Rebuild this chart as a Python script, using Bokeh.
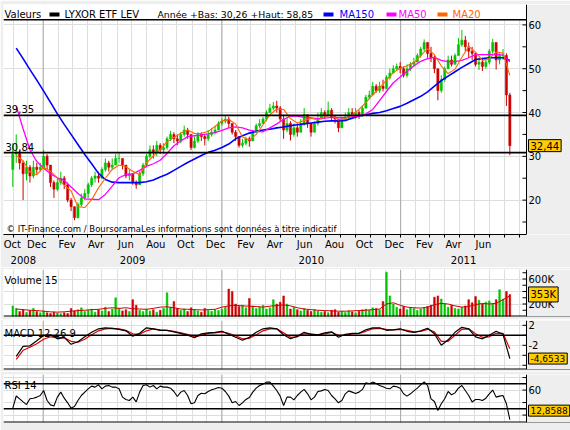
import pandas as pd
from bokeh.plotting import figure
from bokeh.layouts import column
from bokeh.models import Range1d, FixedTicker, Span, Label, BoxAnnotation, LinearAxis
from bokeh.embed import file_html
from bokeh.resources import INLINE

# ---------------- data (weekly) ----------------
first_open = 27.0
close = [30.5, 31, 28.5, 26, 27.5, 25.5, 27.5, 27, 27.5, 30,
         28, 24, 22.5, 24, 25, 23.5, 20, 18.5, 16, 19,
         20.5, 21.5, 23.5, 25, 25.5, 25, 27, 28.5, 27.5, 28,
         29.5, 29.5, 28, 25.5, 26, 24, 23.5, 26, 28, 30,
         31.5, 31, 32.5, 31.5, 32, 34, 35, 34, 33.5, 35,
         36, 35, 32, 33.5, 35, 34.5, 34, 35, 35.5, 36,
         37.5, 38, 38.5, 37.5, 35.5, 34.5, 32.5, 33, 34, 33.5,
         35.5, 37, 37.5, 38.5, 40, 41, 41.5, 41, 38.5, 36,
         37.5, 35, 36.5, 35.5, 37.5, 39.5, 37.5, 35.5, 37.5, 38.5,
         40, 39.5, 40.5, 39, 38.5, 36.5, 38.5, 39, 40, 39.5,
         40, 39.5, 41, 43.5, 44, 46, 45, 46, 45.5, 48,
         49, 50, 50.5, 50, 48.5, 50, 51, 51.5, 53, 54.5,
         56, 53.5, 52.5, 50, 45, 47.5, 50, 52, 51, 53,
         55.5, 56.5, 55, 54, 53.5, 51, 51.5, 50.5, 51.5, 54,
         56, 52, 53, 53, 44, 32.44]
high = [33, 35, 31.5, 29, 29, 28, 29, 28.5, 28.5, 31.5,
        30.5, 28, 24.5, 25, 26.5, 25.5, 24, 20.5, 18.5, 19.5,
        21.5, 22.5, 24, 25.5, 26.5, 26.5, 27.5, 29.5, 29, 29.5,
        30.5, 31, 29.5, 28, 27, 26, 24.5, 26.5, 28.5, 30.5,
        32.5, 32.5, 33.5, 33, 33, 34.5, 35.8, 35.5, 35, 35.5,
        37, 36.5, 35, 34.5, 35.5, 35.5, 35, 36, 36.5, 37,
        38, 38.7, 39.3, 39, 37.5, 36, 34.5, 34, 34.5, 34.5,
        36, 37.5, 38.5, 39, 40.5, 42, 42.4, 42.7, 41.5, 39.5,
        39, 38, 37.5, 37.5, 38.5, 41, 39.5, 37.5, 38, 40,
        41, 40.5, 42.5, 41, 39.5, 38.5, 39, 40, 41, 41,
        41, 40.5, 41.5, 44, 45, 47, 46.5, 47, 47.5, 48.5,
        50, 50.8, 51.2, 51.5, 50.5, 51, 51.5, 52.5, 53.5, 55,
        56.7, 56, 55, 53, 50, 48.5, 50.5, 53, 53, 53.5,
        57, 58.85, 57.5, 56, 55, 53.5, 52.5, 52.5, 52.5, 54.5,
        56.8, 56, 53.5, 54.5, 53.5, 44.5]
low = [23, 28.5, 27, 20, 24.5, 24, 25, 26, 26.5, 27.5,
       27, 23, 20.5, 22, 23.5, 22.5, 19.5, 17.5, 15.4, 15.8,
       18.5, 20, 20.5, 23, 24, 24, 25, 26.5, 26.5, 27,
       28, 28.5, 27, 25, 24.5, 23.5, 22.6, 23.5, 25.5, 27.5,
       29.5, 29.5, 30, 30.5, 30.5, 31.5, 33.5, 33, 32.5, 33,
       34.5, 34, 31.4, 31.8, 33, 33.5, 32.5, 33.5, 34.5, 35,
       36, 37, 37.5, 36.5, 35, 33.5, 32, 32, 32.5, 32.2,
       33.5, 35.5, 36.5, 37.5, 38, 40, 40.5, 40, 38, 34,
       35.5, 33.6, 34.5, 34.5, 35.5, 37, 36.5, 34.5, 35.5, 37,
       38.5, 38.5, 39.5, 38, 37.5, 35.5, 36.5, 38, 38.5, 38.5,
       38.5, 38.5, 39, 41, 43, 44, 44.5, 44.5, 44.8, 45.3,
       47.5, 49, 49.5, 49, 48, 48, 49.5, 50.5, 51.5, 52.5,
       54, 52.5, 51.5, 49, 42.8, 44.5, 47, 50, 50.5, 51,
       53, 55, 54, 52.5, 52, 50.5, 49.7, 49.5, 50, 51,
       53.5, 49.8, 51, 52, 41.5, 30.26]
volume_k = [170, 130, 80, 110, 65, 95, 130, 80, 60, 90,
            60, 50, 70, 55, 45, 60, 50, 130, 90, 110,
            140, 80, 100, 120, 70, 110, 90, 150, 80, 120,
            300, 130, 90, 110, 80, 270, 180, 100, 80, 120,
            90, 110, 70, 100, 130, 380, 150, 240, 130, 100,
            120, 80, 140, 110, 90, 70, 130, 100, 85, 110,
            95, 120, 150, 440, 400, 200, 160, 180, 140, 290,
            170, 130, 150, 180, 120, 140, 270, 200, 230, 330,
            200, 120, 150, 110, 90, 130, 100, 80, 110, 90,
            70, 80, 60, 100, 110, 70, 80, 65, 90, 75,
            60, 85, 110, 120, 100, 140, 130, 110, 240, 710,
            330, 200, 150, 120, 160, 110, 140, 130, 100, 120,
            140, 160, 180, 310, 330, 280, 200, 150, 180, 130,
            120, 150, 170, 270, 220, 320, 260, 200, 230, 250,
            210, 270, 430, 280, 400, 353]
rsi = [31, 50.5, 46, 41, 36.8, 46, 47, 48.7, 51.3, 59.3,
       43.3, 36.3, 34.6, 48.7, 56.7, 47, 39.6, 31.1, 33.8, 43.3,
       51.3, 56.7, 62, 66.3, 64.7, 68.4, 62, 66.3, 67.3, 64.7,
       64.7, 62, 48.7, 45, 43.3, 48.7, 41, 56.7, 67.3, 68.4,
       64.7, 67.3, 62, 66.3, 64.7, 64.7, 63, 57.7, 49.7, 56.7,
       59.3, 51.3, 38, 39.6, 51.3, 55, 54, 57.7, 60.4, 62,
       64.2, 63, 57.7, 50.3, 39.6, 41.7, 35.3, 39.6, 45, 48.2,
       56.7, 63, 67.3, 69.5, 72.7, 72.7, 66.3, 59.3, 50.3, 35.3,
       48.7, 48.7, 44.4, 51.3, 56.7, 61, 54, 44.4, 48.7, 57.7,
       58.7, 61, 59.3, 51.3, 46, 39.6, 43.3, 54, 58.7, 56.7,
       54.5, 56.7, 61, 71.6, 70, 72.7, 70.5, 67.3, 65.2, 63,
       62, 66.3, 65.2, 63, 54, 50.3, 54, 58.7, 63, 68.4,
       73.2, 67.3, 46, 41.7, 27.4, 38, 46, 57.7, 52.4, 55.5,
       63, 67.3, 59.3, 51.3, 41, 45, 45, 43.3, 47, 54,
       60, 48.7, 50.3, 51.3, 38, 12.8588]

# every second week
ma150 = [54.7, 52.3, 49.8, 47.4, 44.9, 42.3, 39.7, 37.3, 35.0, 32.7,
         30.4, 28.3, 26.1, 24.7, 24.1, 24.0, 24.0, 24.0, 24.0, 24.2,
         24.6, 25.3, 25.9, 26.8, 27.7, 28.6, 29.4, 30.2, 30.9, 31.4,
         32.0, 32.8, 34.0, 34.7, 35.3, 35.7, 36.0, 36.2, 36.5, 36.7,
         37.0, 37.2, 37.4, 37.6, 37.8, 38.0, 38.1, 38.1, 38.2, 38.7,
         39.2, 39.5, 39.8, 40.0, 40.4, 40.9, 41.4, 42.1, 42.9, 43.7,
         44.7, 46.0, 47.3, 48.3, 49.3, 50.3, 51.2, 52.1, 52.3, 52.5, 52.5, 52.5, 51.9]
ma50 = [41.5, 36.3, 31.5, 28.8, 27.3, 26.0, 25.1, 24.5, 23.0, 21.5,
        20.3, 20.2, 20.1, 21.3, 23.2, 25.1, 25.8, 26.0, 26.8, 27.7,
        28.3, 29.1, 30.7, 32.4, 33.5, 34.5, 34.7, 34.9, 35.1, 35.4,
        35.9, 36.5, 36.7, 36.5, 36.0, 35.7, 35.6, 36.5, 37.4, 38.4,
        39.2, 39.2, 38.9, 38.8, 38.6, 38.7, 38.9, 38.8, 38.8, 39.0,
        39.2, 39.7, 40.7, 42.7, 44.8, 46.8, 48.1, 49.4, 50.6, 51.7,
        52.3, 52.6, 51.9, 51.6, 51.6, 51.9, 52.5, 53.2, 53.2, 53.2, 53.3, 53.1, 51.6]
ma20 = [30.2, 29.0, 26.4, 25.8, 27.5, 26.6, 25.0, 23.4, 22.1, 18.5,
        18.3, 20.1, 22.8, 25.0, 27.0, 28.0, 27.6, 26.6, 25.8, 28.5,
        30.1, 31.6, 33.3, 34.3, 35.3, 36.0, 35.2, 35.2, 35.7, 36.8,
        38.1, 38.4, 37.4, 34.4, 33.7, 35.0, 37.2, 39.5, 40.8, 40.7,
        38.6, 37.6, 38.2, 38.7, 38.3, 39.1, 39.4, 38.3, 38.6, 39.5,
        40.7, 42.3, 44.0, 45.6, 47.4, 49.1, 50.1, 50.7, 51.4, 53.0,
        54.6, 53.2, 50.6, 48.9, 49.9, 52.6, 55.1, 53.8, 51.9, 52.3, 53.8, 53.6, 48.5]
vol_ma_k = [120, 110, 100, 95, 85, 75, 70, 75, 85, 95,
            100, 110, 115, 130, 140, 130, 140, 125, 120, 115,
            130, 150, 155, 140, 120, 115, 110, 105, 110, 115,
            150, 170, 180, 170, 165, 160, 150, 165, 175, 185,
            170, 140, 120, 110, 100, 95, 90, 85, 85, 90,
            95, 100, 110, 120, 200, 220, 180, 150, 140, 135,
            150, 190, 210, 200, 170, 150, 160, 190, 210, 200, 210, 270, 330]
macd = [-4.2, -2.2, -2.1, -1.1, 0.0, 0.1, -0.7, -0.4, -1.8, -1.3,
        -0.3, 0.6, 1.3, 1.5, 1.4, 1.2, 0.9, -0.2, 0.4, 1.5,
        1.3, 1.0, 1.0, 0.7, 0.4, 0.0, -0.5, 0.3, 0.5, 0.6,
        0.8, 0.2, -0.4, -1.0, -0.4, 0.6, 1.3, 1.5, 1.3, 0.1,
        -0.7, -0.2, 0.6, 0.2, 0.1, 0.5, 0.7, -0.4, 0.2, 0.4,
        0.4, 1.1, 1.5, 1.5, 1.0, 1.1, 1.3, 0.8, 0.6, 0.9,
        1.4, 0.3, -2.0, -0.9, 0.6, 1.6, 1.3, -0.3, -0.7, 0.0, 0.8, 0.2, -4.6533]
signal = [-4.8, -3.0, -2.4, -1.7, -0.8, -0.3, -0.4, -0.5, -1.2, -1.4,
          -0.8, 0.1, 0.9, 1.3, 1.4, 1.3, 1.0, 0.3, 0.2, 0.9,
          1.3, 1.1, 1.0, 0.8, 0.5, 0.2, -0.3, 0.0, 0.4, 0.5,
          0.7, 0.4, -0.1, -0.7, -0.6, 0.1, 0.9, 1.3, 1.3, 0.5,
          -0.4, -0.3, 0.3, 0.3, 0.1, 0.3, 0.6, 0.0, 0.0, 0.3,
          0.4, 0.8, 1.3, 1.4, 1.2, 1.1, 1.2, 1.0, 0.7, 0.8,
          1.2, 0.7, -1.2, -1.2, 0.0, 1.2, 1.3, 0.3, -0.4, -0.3, 0.4, 0.4, -2.7]

support_levels = [39.35, 30.84]
year_low, year_high = 30.26, 58.85
month_names = {2: "Fev", 4: "Avr", 6: "Jun", 8: "Aou", 10: "Oct", 12: "Dec"}
years = ["2008", "2009", "2010", "2011"]

# ---------------- derived ----------------
dates = pd.date_range("2008-10-31", periods=len(close), freq="W-FRI")
ma_dates = dates[1::2]
opens = [first_open] + close[:-1]
GREEN, RED = "#00C400", "#CC0000"
colors = [GREEN if c >= o else RED for o, c in zip(opens, close)]
body_top = [max(o, c) for o, c in zip(opens, close)]
body_bot = [min(o, c) for o, c in zip(opens, close)]
volume = [v * 1000 for v in volume_k]
vol_ma = [v * 1000 for v in vol_ma_k]

BG, GRID, YEARC = "#EEEEEE", "#DEDEDE", "#A8A8A8"
FONT = "DejaVu Sans"
DAY = 86400000


def ms(t):
    return int(pd.Timestamp(t).value // 10**6)


x_start, x_end = pd.Timestamp("2008-10-12"), pd.Timestamp("2011-09-15")
AXIS_PX, FRAME_PX = 523, 567          # data area width / full frame width (px)
full_end = x_start + (x_end - x_start) * FRAME_PX / AXIS_PX
x_range = Range1d(x_start, full_end)
axis_ms = ms(x_end)
px_day = AXIS_PX / (x_end - x_start).days
tick_len = 4 / px_day * DAY

month_ticks = [ms(t) for t in pd.date_range("2008-11-01", "2011-09-01", freq="MS")]
year_starts = [ms(f"{y}-01-01") for y in (2009, 2010, 2011)]


def make_panel(height, top, bottom, y0, y1, grid_ticks, main=False):
    p = figure(width=570, height=height, x_range=x_range, y_range=Range1d(y0, y1),
               x_axis_type="datetime", y_axis_location=None,
               x_axis_location="below" if main else None,
               toolbar_location=None, output_backend="svg",
               min_border_left=3, min_border_right=0, min_border_top=top, min_border_bottom=bottom)
    p.border_fill_color = BG
    p.background_fill_color = "white"
    p.outline_line_color = None
    p.xgrid.ticker = FixedTicker(ticks=month_ticks)
    p.xgrid.grid_line_color = GRID
    p.ygrid.ticker = FixedTicker(ticks=grid_ticks)
    p.ygrid.grid_line_color = GRID
    for ys in year_starts:
        p.add_layout(Span(location=ys, dimension="height", line_color=YEARC,
                          line_width=1, level="underlay"))
    if not main:
        p.add_layout(Span(location=y0, dimension="width", line_color="black", line_width=2))
    return p


def finish_panel(p, ticks, labels):
    # grey area right of the value axis, then the axis itself
    p.add_layout(BoxAnnotation(left=axis_ms, fill_color=BG, fill_alpha=1, line_alpha=0))
    p.add_layout(Span(location=axis_ms, dimension="height", line_color="black", line_width=1))
    p.segment(x0=[axis_ms - tick_len] * len(ticks), x1=[axis_ms] * len(ticks), y0=ticks, y1=ticks,
              line_color="black", line_width=1)
    for t in ticks:
        if t in labels:
            p.add_layout(Label(x=axis_ms, y=t, x_offset=2, text=labels[t], text_font=FONT,
                               text_font_size="10px", text_color="black", text_align="left",
                               text_baseline="middle"))


def value_box(p, y, text, size="10px"):
    p.add_layout(Label(x=axis_ms, y=y, x_offset=2, text=text, text_font=FONT,
                       text_font_size=size, text_color="black", text_align="left",
                       text_baseline="middle", background_fill_color="#FFCC00",
                       border_line_color="black", border_line_width=1, padding=2))


def title(p, sy, text, x=1, color="black", size="10px"):
    p.add_layout(Label(x=x, y=sy, x_units="screen", y_units="screen", text=text,
                       text_font=FONT, text_font_size=size, text_color=color,
                       text_align="left", text_baseline="middle"))


# ---------------- main price panel ----------------
PX = 4.38
y_lo = 12.15
y_hi = y_lo + 230 / PX
header_line = 61.2
p1 = make_panel(267, 4, 33, y_lo, y_hi, [20, 30, 40, 50, 60], main=True)

# bottom axis: month ticks + month names, then year names
label_off = 18 * DAY
label_months = pd.date_range("2008-12-01", "2011-06-01", freq="2MS")
month_label_x = [ms(x_start) + label_off] + [ms(t) + label_off for t in label_months]
month_label_txt = ["Oct"] + [month_names[t.month] for t in label_months]
xa = p1.xaxis[0]
xa.ticker = FixedTicker(ticks=month_label_x, minor_ticks=month_ticks)
xa.major_label_overrides = dict(zip(month_label_x, month_label_txt))
xa.bounds = (ms(x_start), axis_ms)
xa.major_tick_in, xa.major_tick_out = 0, 0
xa.minor_tick_in, xa.minor_tick_out = 0, 3
xa.minor_tick_line_color = "black"
xa.axis_line_color = "black"
xa.major_label_standoff = 1
xa.major_label_text_font = FONT
xa.major_label_text_font_size = "10px"
xa.major_label_text_color = "black"

year_bounds = [x_start, pd.Timestamp("2009-01-01"), pd.Timestamp("2010-01-01"),
               pd.Timestamp("2011-01-01"), x_end]
year_x = [ms(year_bounds[i] + (year_bounds[i + 1] - year_bounds[i]) / 2) for i in range(4)]
ya = LinearAxis(ticker=FixedTicker(ticks=year_x), major_label_overrides=dict(zip(year_x, years)),
                axis_line_color=None, major_tick_in=0, major_tick_out=0, minor_tick_in=0,
                minor_tick_out=0, major_label_standoff=3, major_label_text_font=FONT,
                major_label_text_font_size="10px", major_label_text_color="black")
p1.add_layout(ya, "below")

for lv in support_levels:
    p1.add_layout(Span(location=lv, dimension="width", line_color="black", line_width=1.6))
    p1.add_layout(Label(x=2, y=lv, x_units="screen", y_offset=2, text=f"{lv:.2f}".replace(".", ","),
                        text_font=FONT, text_font_size="10px", text_color="black",
                        text_align="left", text_baseline="bottom"))

p1.segment(x0=dates, y0=low, x1=dates, y1=high, line_color=colors, line_width=1)
p1.vbar(x=dates, width=4.5 * DAY, top=body_top, bottom=body_bot,
        fill_color=colors, line_color=colors, line_width=0.5)
p1.line(ma_dates, ma150, line_color="#0000FF", line_width=1.6)
p1.line(ma_dates, ma50, line_color="#FF00FF", line_width=1.3)
p1.line(ma_dates, ma20, line_color="#FF6600", line_width=1.1)

p1.add_layout(BoxAnnotation(bottom=header_line, fill_color="white", fill_alpha=1, line_alpha=0))
p1.add_layout(Span(location=header_line, dimension="width", line_color="black", line_width=1.5))

hy = 220
title(p1, hy, "Valeurs", x=1)
p1.add_layout(BoxAnnotation(left=46, right=56, top=hy + 2, bottom=hy - 2, left_units="screen",
                            right_units="screen", top_units="screen", bottom_units="screen",
                            fill_color="black", fill_alpha=1, line_alpha=0))
title(p1, hy, "LYXOR ETF LEV", x=61)
title(p1, hy, "Année +Bas: " + f"{year_low:.2f}".replace(".", ",") + " +Haut: "
      + f"{year_high:.2f}".replace(".", ","), x=154, size="9.3px")
for (bx, tx, name, col) in [(320, 336, "MA150", "#0000FF"), (383, 395, "MA50", "#FF00FF"),
                            (434, 449, "MA20", "#FF6600")]:
    p1.add_layout(BoxAnnotation(left=bx, right=bx + 10, top=hy + 2, bottom=hy - 2, left_units="screen",
                                right_units="screen", top_units="screen", bottom_units="screen",
                                fill_color=col, fill_alpha=1, line_alpha=0))
    title(p1, hy, name, x=tx, color=col)

title(p1, 6, "© IT-Finance.com / BoursoramaLes informations sont données à titre indicatif",
      x=3, size="8.5px")
finish_panel(p1, list(range(15, 61, 5)), {v: str(v) for v in (20, 30, 40, 50, 60)})
value_box(p1, close[-1], f"{close[-1]:.2f}".replace(".", ","))

# ---------------- volume panel ----------------
VPX = 16000
p2 = make_panel(52, 2, 3, 0, 47 * VPX, [200000, 400000, 600000])
p2.vbar(x=dates, width=3.5 * DAY, top=volume, bottom=0, fill_color=colors, line_color=colors,
        line_width=0.5)
p2.line(ma_dates, vol_ma, line_color="#D00000", line_width=1)
title(p2, 36, "Volume 15")
finish_panel(p2, list(range(100000, 800000, 100000)), {200000: "200K", 600000: "600K"})
value_box(p2, volume[-1], f"{volume_k[-1]}K")

# ---------------- MACD panel ----------------
m_lo, m_hi = -6.84, 2.96
p3 = make_panel(52, 1, 2, m_lo, m_hi, [-6, -4, -2, 2])
p3.add_layout(Span(location=0, dimension="width", line_color="black", line_width=1.5))
p3.line(ma_dates, signal, line_color="#DD0000", line_width=1.2)
p3.line(ma_dates, macd, line_color="black", line_width=1.2)
title(p3, 36, "MACD 12 26 9")
finish_panel(p3, [-6, -4, -2, 0, 2], {2: "2", -2: "-2"})
value_box(p3, macd[-1], f"{macd[-1]:.4f}".replace(".", ","), size="9px")

# ---------------- RSI panel ----------------
r_lo, r_hi = 8.1, 84.9
p4 = make_panel(59, 3, 8, r_lo, r_hi, [20, 40, 60, 80])
for lv in (70, 30):
    p4.add_layout(Span(location=lv, dimension="width", line_color="black", line_width=1.5))
p4.line(dates, rsi, line_color="black", line_width=1.1)
title(p4, 37, "RSI 14")
finish_panel(p4, [20, 40, 60, 80], {60: "60"})
value_box(p4, max(rsi[-1], r_lo + 19), f"{rsi[-1]:.4f}".replace(".", ","), size="9px")

layout = column(p1, p2, p3, p4, spacing=0)
open("out.html", "w").write(file_html(layout, INLINE))
